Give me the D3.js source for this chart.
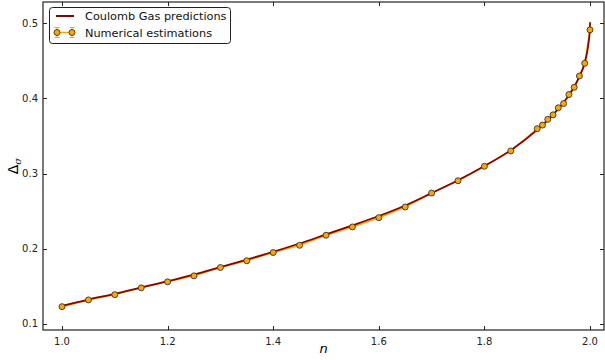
<!DOCTYPE html>
<html>
<head>
<meta charset="utf-8">
<script src="https://cdn.jsdelivr.net/npm/d3@7"></script>
<style>
	body { margin: 0; background: #fff; }
	text { font-family: "DejaVu Sans", sans-serif; }
</style>
</head>
<body>
<svg id="chart" width="605" height="360"></svg>
<script>
// numerical estimations
var numN   = [1.00, 1.05, 1.10, 1.15, 1.20, 1.25, 1.30, 1.35, 1.40, 1.45, 1.50, 1.55, 1.60, 1.65, 1.70, 1.75, 1.80, 1.85,
              1.90, 1.91, 1.92, 1.93, 1.94, 1.95, 1.96, 1.97, 1.98, 1.99, 2.00];
var numVal = [0.123, 0.132, 0.139, 0.148, 0.156, 0.164, 0.175, 0.184, 0.195, 0.2046, 0.218, 0.229, 0.2413, 0.2555, 0.274, 0.2904, 0.3096, 0.330,
              0.3596, 0.3644, 0.372, 0.378, 0.3874, 0.393, 0.405, 0.4146, 0.4296, 0.4465, 0.491];

// Coulomb gas curve
var cgN   = [1.00, 1.05, 1.10, 1.15, 1.20, 1.25, 1.30, 1.35, 1.40, 1.45, 1.50, 1.55, 1.60, 1.65, 1.70, 1.75, 1.80, 1.85,
             1.90, 1.92, 1.94, 1.96, 1.97, 1.98, 1.99, 1.995, 1.998, 1.9995, 2.00];
var cgVal = [0.124, 0.1325, 0.140, 0.1485, 0.157, 0.1655, 0.1755, 0.1855, 0.196, 0.207, 0.219, 0.231, 0.2435, 0.2575, 0.274, 0.291, 0.310, 0.331,
             0.358, 0.371, 0.386, 0.404, 0.415, 0.429, 0.447, 0.463, 0.478, 0.489, 0.501];

var xTicks = [1.0, 1.2, 1.4, 1.6, 1.8, 2.0];
var yTicks = [0.1, 0.2, 0.3, 0.4, 0.5];

var svg = d3.select("#chart");
var mLeft = 43, mRight = 604, mTop = 2, mBottom = 330;

var x = d3.scaleLinear().domain([0.964, 2.0265]).range([mLeft, mRight]);
var y = d3.scaleLinear().domain([0.092, 0.528]).range([mBottom, mTop]);

var line = d3.line().x(function (d){return x(d[0]);}).y(function (d){return y(d[1]);});

var numData = numN.map(function (n, i){return [n, numVal[i]];});
var cgData = cgN.map(function (n, i){return [n, cgVal[i]];});

svg.append("defs").append("clipPath").attr("id", "clip")
	.append("rect").attr("x", mLeft).attr("y", mTop).attr("width", mRight - mLeft).attr("height", mBottom - mTop);

var plot = svg.append("g").attr("clip-path", "url(#clip)");

plot.append("path")
	.datum(numData)
	.attr("d", line)
	.attr("fill", "none")
	.attr("stroke", "#ffa500")
	.attr("stroke-width", 1.5);

plot.append("path")
	.datum(cgData)
	.attr("d", d3.line().curve(d3.curveMonotoneX).x(function (d){return x(d[0]);}).y(function (d){return y(d[1]);}))
	.attr("fill", "none")
	.attr("stroke", "#8b0000")
	.attr("stroke-width", 1.8);

plot.selectAll("circle.pt")
	.data(numData)
	.enter()
	.append("circle")
	.classed("pt", true)
	.attr("cx", function (d){return x(d[0]);})
	.attr("cy", function (d){return y(d[1]);})
	.attr("r", 3)
	.attr("fill", "#ffa500")
	.attr("stroke", "#333")
	.attr("stroke-width", 0.9);

// frame
svg.append("rect")
	.attr("x", mLeft).attr("y", mTop)
	.attr("width", mRight - mLeft).attr("height", mBottom - mTop)
	.attr("fill", "none")
	.attr("stroke", "#222")
	.attr("stroke-width", 1.2);

// ticks (inward, on all sides)
var tl = 4;
var axes = svg.append("g").attr("stroke", "#222").attr("stroke-width", 1);
xTicks.forEach(function (t){
	var px = Math.round(x(t)) + 0.5;
	axes.append("line").attr("x1", px).attr("x2", px).attr("y1", mBottom).attr("y2", mBottom - tl);
	axes.append("line").attr("x1", px).attr("x2", px).attr("y1", mTop).attr("y2", mTop + tl);
});
yTicks.forEach(function (t){
	var py = Math.round(y(t)) + 0.5;
	axes.append("line").attr("x1", mLeft).attr("x2", mLeft + tl).attr("y1", py).attr("y2", py);
	axes.append("line").attr("x1", mRight).attr("x2", mRight - tl).attr("y1", py).attr("y2", py);
});

svg.append("g").selectAll("text")
	.data(xTicks)
	.enter()
	.append("text")
	.attr("x", function (d){return x(d);})
	.attr("y", mBottom + 15)
	.attr("text-anchor", "middle")
	.attr("font-size", 10)
	.attr("fill", "#222")
	.text(function (d){return d.toFixed(1);});

svg.append("g").selectAll("text")
	.data(yTicks)
	.enter()
	.append("text")
	.attr("x", mLeft - 5)
	.attr("y", function (d){return y(d) + 3.5;})
	.attr("text-anchor", "end")
	.attr("font-size", 10)
	.attr("fill", "#222")
	.text(function (d){return d.toFixed(1);});

// axis labels
svg.append("text")
	.attr("x", (mLeft + mRight) / 2)
	.attr("y", 353)
	.attr("text-anchor", "middle")
	.attr("font-size", 13)
	.attr("font-style", "italic")
	.attr("font-family", "DejaVu Serif, serif")
	.text("n");

var yl = svg.append("text")
	.attr("transform", "translate(18," + ((mTop + mBottom) / 2) + ") rotate(-90)")
	.attr("text-anchor", "middle")
	.attr("font-size", 14);
yl.append("tspan").text("Δ");
yl.append("tspan").attr("font-size", 10).attr("font-style", "italic").attr("font-family", "DejaVu Serif, serif").attr("dy", 3).text("σ");

// legend
var lg = svg.append("g");
lg.append("rect")
	.attr("x", 49.5).attr("y", 7.5)
	.attr("width", 181).attr("height", 36)
	.attr("rx", 3)
	.attr("fill", "#fff")
	.attr("stroke", "#222")
	.attr("stroke-width", 1);
lg.append("line")
	.attr("x1", 56).attr("x2", 74).attr("y1", 16).attr("y2", 16)
	.attr("stroke", "#8b0000").attr("stroke-width", 2);
lg.append("text").attr("x", 85).attr("y", 20).attr("font-size", 11.3).attr("fill", "#111").text("Coulomb Gas predictions");

lg.append("line")
	.attr("x1", 57).attr("x2", 72).attr("y1", 32.5).attr("y2", 32.5)
	.attr("stroke", "#ffa500").attr("stroke-width", 1.5);
[57, 72].forEach(function (cx){
	lg.append("line").attr("x1", cx).attr("x2", cx).attr("y1", 27.5).attr("y2", 37.5).attr("stroke", "#ffa500").attr("stroke-width", 1);
	lg.append("line").attr("x1", cx - 2.5).attr("x2", cx + 2.5).attr("y1", 27.5).attr("y2", 27.5).attr("stroke", "#ffa500").attr("stroke-width", 1);
	lg.append("line").attr("x1", cx - 2.5).attr("x2", cx + 2.5).attr("y1", 37.5).attr("y2", 37.5).attr("stroke", "#ffa500").attr("stroke-width", 1);
	lg.append("circle").attr("cx", cx).attr("cy", 32.5).attr("r", 3).attr("fill", "#ffa500").attr("stroke", "#333").attr("stroke-width", 0.9);
});
lg.append("text").attr("x", 85).attr("y", 36.5).attr("font-size", 11.3).attr("fill", "#111").text("Numerical estimations");
</script>
</body>
</html>
